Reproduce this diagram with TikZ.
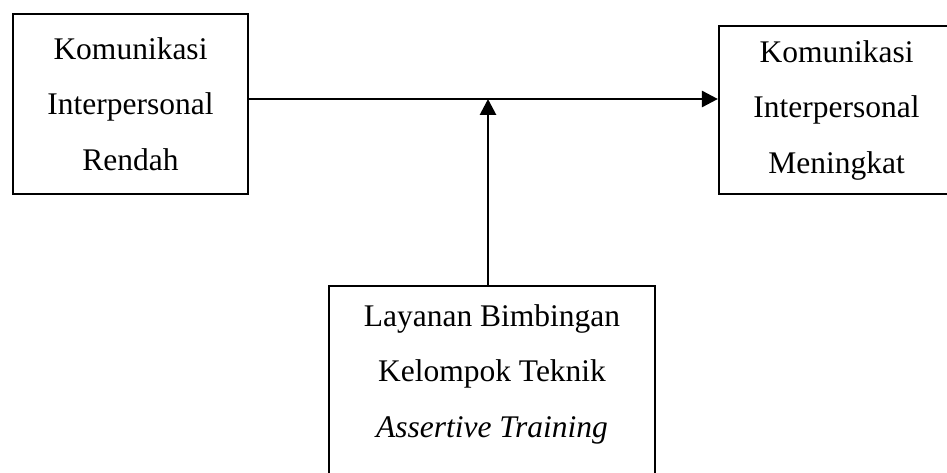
\documentclass[tikz,border=0pt]{standalone}
\usepackage{fontspec}
\setmainfont{Liberation Serif}
\usetikzlibrary{arrows.meta}

\begin{document}
\begin{tikzpicture}[x=1pt,y=-1pt,
  kotak/.style={draw,line width=2.2pt,align=center,inner sep=0pt,
    font=\fontsize{31.5}{55.5}\selectfont},
  panah/.style={line width=2.8pt,-{Triangle[length=16pt,width=16pt]}}]
  \useasboundingbox (0,0) rectangle (947,473);
  \node[kotak,minimum width=235,minimum height=180] (rendah) at (130.5,104)
    {Komunikasi\\Interpersonal\\Rendah};
  \node[kotak,minimum width=235,minimum height=168] (meningkat) at (836.5,110)
    {Komunikasi\\Interpersonal\\Meningkat};
  \node[kotak,minimum width=326,anchor=north,inner ysep=18.5pt,text depth=70pt] (layanan) at (492,285)
    {Layanan Bimbingan\\Kelompok Teknik\\\textit{Assertive Training}};
  \coordinate (temu) at (488,99);
  \draw[panah] ([yshift=5pt]rendah.east) -- ([yshift=11pt]meningkat.west);
  \draw[panah] ([xshift=-4pt]layanan.north) -- (temu);
\end{tikzpicture}
\end{document}
